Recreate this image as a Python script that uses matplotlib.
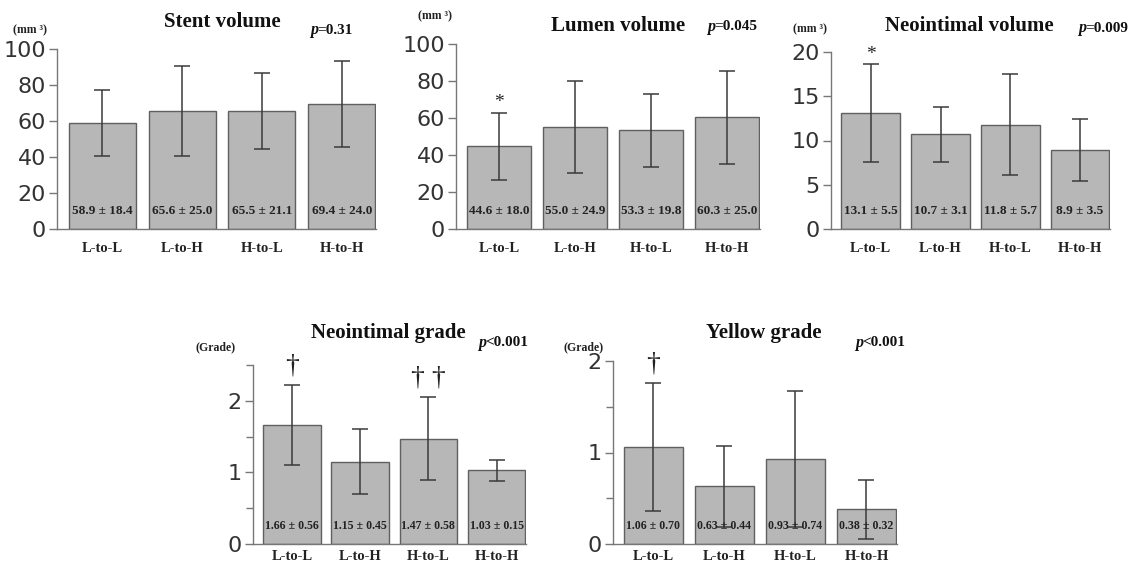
import numpy as np
import matplotlib
matplotlib.use("Agg")
import matplotlib.pyplot as plt

# data
groups = ["L-to-L", "L-to-H", "H-to-L", "H-to-H"]

stent_mean = [58.9, 65.6, 65.5, 69.4]
stent_sd = [18.4, 25.0, 21.1, 24.0]
lumen_mean = [44.6, 55.0, 53.3, 60.3]
lumen_sd = [18.0, 24.9, 19.8, 25.0]
neo_vol_mean = [13.1, 10.7, 11.8, 8.9]
neo_vol_sd = [5.5, 3.1, 5.7, 3.5]
neo_grade_mean = [1.66, 1.15, 1.47, 1.03]
neo_grade_sd = [0.56, 0.45, 0.58, 0.15]
yellow_mean = [1.06, 0.63, 0.93, 0.38]
yellow_sd = [0.70, 0.44, 0.74, 0.32]

W, H = 1137, 566
fig = plt.figure(figsize=(W / 100, H / 100), dpi=100)

serif = "Liberation Serif"
sans = "DejaVu Sans"
bar_col = "#b7b7b7"
dark = "#3a3a3a"


def px(x, y):
    return x / W, 1 - y / H


def panel(rect, mean, sd, ylim, yticks, minor, fmt, mark=None, xpad=9, vsize=9.5):
    l, t, r, b = rect
    ax = fig.add_axes([l / W, 1 - b / H, (r - l) / W, (b - t) / H])
    x = np.arange(len(groups))
    ax.bar(x, mean, width=0.84, color=bar_col, edgecolor="#606060", linewidth=1.0, zorder=2)
    ax.errorbar(x, mean, yerr=sd, fmt="none", ecolor=dark, elinewidth=1.1,
                capsize=6, capthick=1.1, zorder=3)
    ax.set_xlim(-0.57, 3.43)
    ax.set_ylim(*ylim)
    ax.set_yticks(yticks)
    ax.set_yticklabels([str(v) for v in yticks], fontfamily=sans, fontsize=16,
                       color="#333333")
    if minor:
        ax.set_yticks(minor, minor=True)
        ax.tick_params(axis="y", which="minor", length=5, color="#777777", width=1)
    ax.set_xticks(x)
    ax.set_xticklabels(groups, fontfamily=serif, fontweight="bold", fontsize=10.5,
                       color="#222222")
    ax.tick_params(axis="y", length=6, width=1, color="#777777", pad=2)
    ax.tick_params(axis="x", length=0, pad=xpad)
    for s in ["top", "right"]:
        ax.spines[s].set_visible(False)
    for s in ["left", "bottom"]:
        ax.spines[s].set_color("#777777")
        ax.spines[s].set_linewidth(1.0)
    ax.spines["left"].set_bounds(ylim[0], ylim[1])
    for i in range(len(groups)):
        ax.text(i, ylim[1] * 0.1, fmt.format(mean[i], sd[i]), ha="center", va="center",
                fontfamily=serif, fontweight="bold", fontsize=vsize, color="#222222", zorder=4)
    if mark:
        for i, m in mark.items():
            dag = m.startswith("\u2020")
            off = 0.035 if dag else 0.01
            ax.text(i, mean[i] + sd[i] + ylim[1] * off, m, ha="center", va="bottom",
                    fontfamily=serif, fontsize=20 if dag else 14, color="#222222")
    return ax


panel((57, 49, 376, 229), stent_mean, stent_sd, (0, 100), [0, 20, 40, 60, 80, 100],
      None, "{:.1f} \u00b1 {:.1f}")
panel((456, 44, 760, 229), lumen_mean, lumen_sd, (0, 100), [0, 20, 40, 60, 80, 100],
      None, "{:.1f} \u00b1 {:.1f}", {0: "*"})
panel((831, 52, 1110, 229), neo_vol_mean, neo_vol_sd, (0, 20), [0, 5, 10, 15, 20],
      None, "{:.1f} \u00b1 {:.1f}", {0: "*"})
panel((253, 365, 526, 544), neo_grade_mean, neo_grade_sd, (0, 2.5), [0, 1, 2],
      [0.5, 1.5, 2.5], "{:.2f} \u00b1 {:.2f}", {0: "\u2020", 2: "\u2020 \u2020"},
      xpad=4, vsize=8.6)
panel((613, 361, 897, 544), yellow_mean, yellow_sd, (0, 2), [0, 1, 2],
      [0.5, 1.5], "{:.2f} \u00b1 {:.2f}", {0: "\u2020"}, xpad=4, vsize=8.6)

# titles
titles = [("Stent volume", 222, 22), ("Lumen volume", 618, 26), ("Neointimal volume", 969, 26),
          ("Neointimal grade", 388, 333), ("Yellow grade", 764, 333)]
for t, x, y in titles:
    fig.text(*px(x, y), t, ha="center", va="center", fontfamily=serif, fontweight="bold",
             fontsize=15, color="#111111")

# p values: italic p followed by bold text
pvals = [("=0.31", 310, 30), ("=0.045", 707, 27), ("=0.009", 1078, 28),
         ("<0.001", 478, 343), ("<0.001", 855, 343)]
for t, x, y in pvals:
    fig.text(*px(x, y), "p", ha="left", va="center", fontfamily=serif,
             fontweight="bold", fontstyle="italic", fontsize=11.5, color="#111111")
    fig.text(*px(x + 7, y), t, ha="left", va="center", fontfamily=serif,
             fontweight="bold", fontsize=11, color="#111111")

units = [("(mm \u00b3)", 13, 30), ("(mm \u00b3)", 418, 16), ("(mm \u00b3)", 793, 29),
         ("(Grade)", 196, 347), ("(Grade)", 563, 347)]
for t, x, y in units:
    fig.text(*px(x, y), t, ha="left", va="center", fontfamily=serif, fontweight="bold",
             fontsize=8.5, color="#222222")

plt.savefig("out.png", dpi=100)
